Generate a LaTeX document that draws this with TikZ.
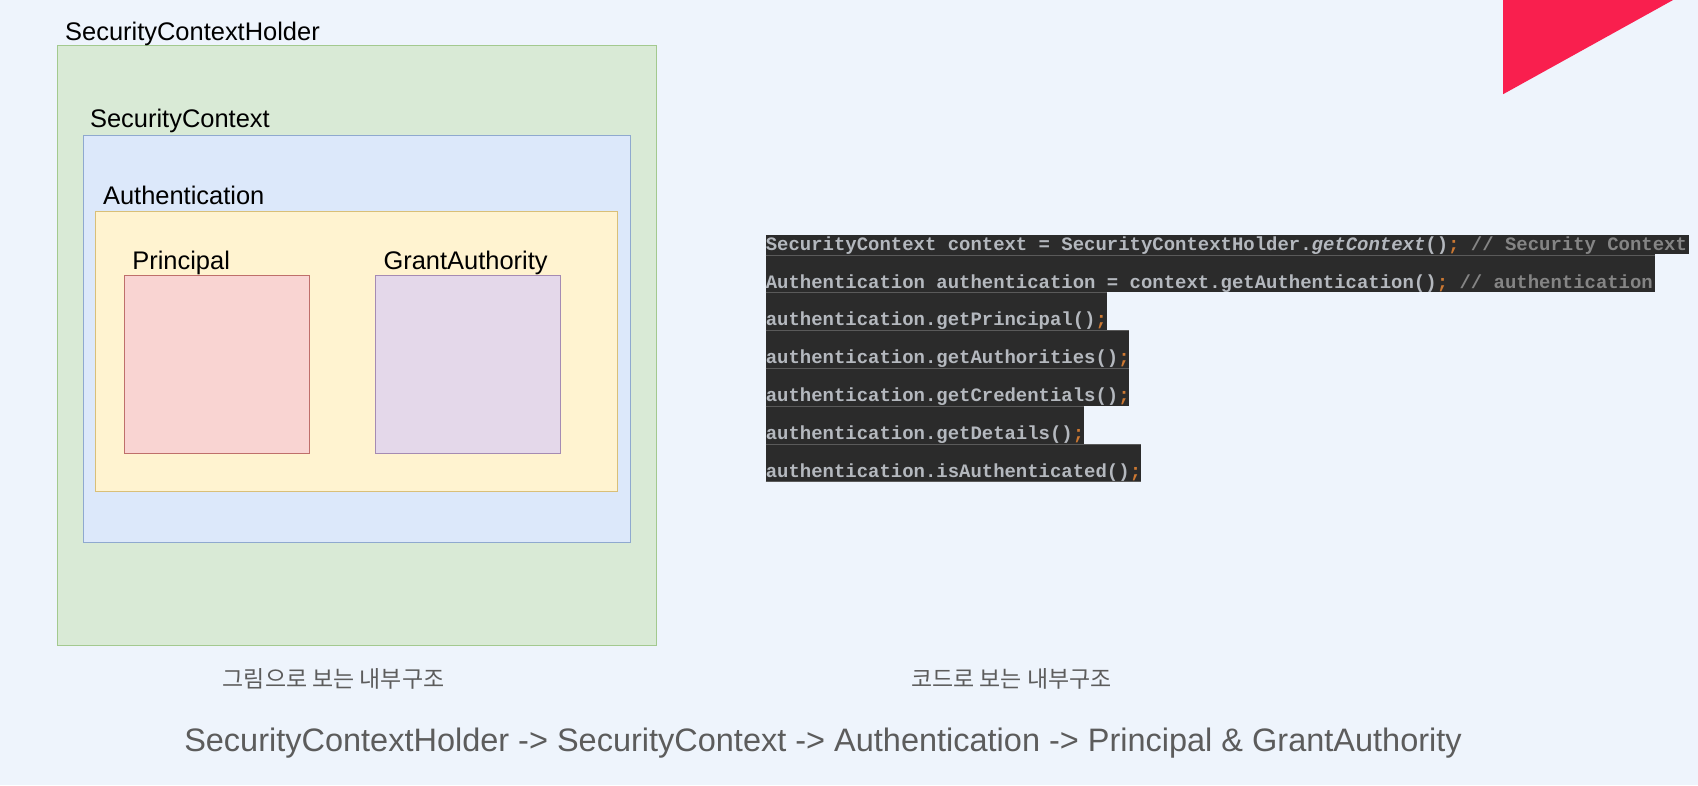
\documentclass[tikz,border=0pt]{standalone}
\usepackage{fontspec}
\setmainfont{Liberation Sans}
\newfontfamily\krfont{Noto Sans CJK KR}
\newfontfamily\codefont{Liberation Mono}
\definecolor{bgc}{HTML}{EEF4FC}
\definecolor{grfill}{HTML}{D9EAD6}
\definecolor{grline}{HTML}{A3C98F}
\definecolor{blfill}{HTML}{DCE8FA}
\definecolor{blline}{HTML}{8FA9CF}
\definecolor{yefill}{HTML}{FFF3D0}
\definecolor{yeline}{HTML}{D9BF78}
\definecolor{pkfill}{HTML}{F9D4D2}
\definecolor{pkline}{HTML}{BF6F6B}
\definecolor{pufill}{HTML}{E4D8EA}
\definecolor{puline}{HTML}{A58BB3}
\definecolor{trired}{HTML}{F91F4E}
\definecolor{codebg}{HTML}{2B2B2B}
\definecolor{codetx}{HTML}{B4B8BE}
\definecolor{codesemi}{HTML}{CC7832}
\definecolor{codecom}{HTML}{858585}
\definecolor{codesep}{HTML}{5A5A5A}
\definecolor{captx}{HTML}{5C5C5C}
\newcommand\cdsemi{\textcolor{codesemi}{;}}
\newcommand\cdcom[1]{\textcolor{codecom}{#1}}
\begin{document}
\begin{tikzpicture}[x=1pt,y=-1pt,
  box/.style={rectangle, inner sep=0pt, outer sep=0pt, line width=1pt},
  lbl/.style={anchor=base west, inner sep=0pt, font=\fontsize{23.5}{26}\selectfont, text=black},
  codebar/.style={fill=codebg, draw=none},
  codeline/.style={anchor=base west, inner sep=0pt, text=codetx, font=\codefont\bfseries\fontsize{17.5}{20}\selectfont},
  caption/.style={inner sep=0pt, text=captx, font=\krfont\fontsize{21.2}{24}\selectfont},
  summary/.style={anchor=base, inner sep=0pt, text=captx, font=\fontsize{30}{34}\selectfont}]
\fill[bgc] (0,0) rectangle (1568,725);
\useasboundingbox (0,0) rectangle (1568,725);

% red corner triangle
\fill[trired] (1388,0) -- (1545,0) -- (1388,87) -- cycle;

% nested boxes
\node[box, fill=grfill, draw=grline, minimum width=553pt, minimum height=554pt] (holder) at (329.5,319) {};
\node[box, fill=blfill, draw=blline, minimum width=505pt, minimum height=376pt] (context) at (329.5,313) {};
\node[box, fill=yefill, draw=yeline, minimum width=482pt, minimum height=259pt] (auth) at (329,324.5) {};
\node[box, fill=pkfill, draw=pkline, minimum width=171pt, minimum height=165pt] (principal) at (200.5,336.5) {};
\node[box, fill=pufill, draw=puline, minimum width=171pt, minimum height=165pt] (grant) at (432.5,336.5) {};

\node[lbl] (holderlbl) at (60,37) {SecurityContextHolder};
\node[lbl] (contextlbl) at (83,118) {SecurityContext};
\node[lbl] (authlbl) at (95,189) {Authentication};
\node[lbl] (principallbl) at (122,249) {Principal};
\node[lbl] (grantlbl) at (354,249) {GrantAuthority};

% code block bars
\fill[codebar] (707,217) rectangle (1560,235);
\fill[codebar] (707,235) rectangle (1528,270);
\fill[codebar] (707,270) rectangle (1022,305);
\fill[codebar] (707,305) rectangle (1043,340);
\fill[codebar] (707,340) rectangle (1043,375);
\fill[codebar] (707,375) rectangle (1001,410);
\fill[codebar] (707,410) rectangle (1054,445);
\draw[codesep, line width=0.8pt] (707,235.5) -- (1528,235.5);
\draw[codesep, line width=0.8pt] (707,270.5) -- (1022,270.5);
\draw[codesep, line width=0.8pt] (707,305.5) -- (1043,305.5);
\draw[codesep, line width=0.8pt] (707,340.5) -- (1043,340.5);
\draw[codesep, line width=0.8pt] (707,375.5) -- (1001,375.5);
\draw[codesep, line width=0.8pt] (707,410.5) -- (1054,410.5);
\draw[codesep, line width=0.8pt] (707,444.5) -- (1054,444.5);

\node[codeline] (c1) at (707,231) {SecurityContext context = SecurityContextHolder.\textit{getContext}()\cdsemi{} \cdcom{// Security Context}};
\node[codeline] (c2) at (707,266) {Authentication authentication = context.getAuthentication()\cdsemi{} \cdcom{// authentication}};
\node[codeline] (c3) at (707,301) {authentication.getPrincipal()\cdsemi};
\node[codeline] (c4) at (707,336) {authentication.getAuthorities()\cdsemi};
\node[codeline] (c5) at (707,371) {authentication.getCredentials()\cdsemi};
\node[codeline] (c6) at (707,406) {authentication.getDetails()\cdsemi};
\node[codeline] (c7) at (707,441) {authentication.isAuthenticated()\cdsemi};

% captions
\node[caption] (cap1) at (308,627) {그림으로 보는 내부구조};
\node[caption] (cap2) at (934,627) {코드로 보는 내부구조};
\node[summary] (summary) at (760,694) {SecurityContextHolder -> SecurityContext -> Authentication -> Principal \& GrantAuthority};
\end{tikzpicture}
\end{document}
